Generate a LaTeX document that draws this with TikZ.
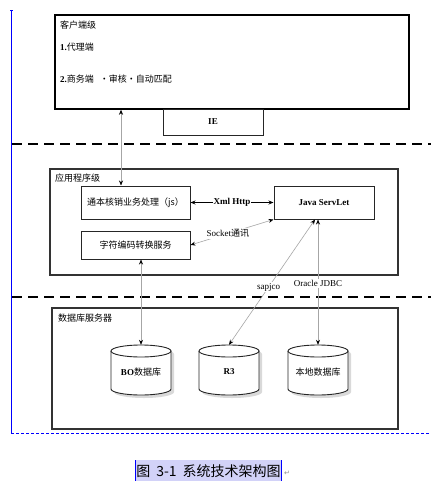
\documentclass[tikz,border=0pt]{standalone}
\usepackage{fontspec}
\setmainfont{Liberation Serif}
\newfontfamily\cjk{Noto Sans CJK SC}
\newfontfamily\dejavu{DejaVu Sans}
\usetikzlibrary{arrows.meta}
\definecolor{hl}{RGB}{210,210,248}
\definecolor{wordblue}{RGB}{0,0,255}
\newcommand{\dbcyl}[1]{%
  \fill[black!15] (#1-27,-354) -- (#1-27,-392) arc[start angle=180,end angle=360,x radius=30,y radius=6] -- (#1+33,-354) arc[start angle=0,end angle=180,x radius=30,y radius=6] -- cycle;
  \draw[cylline] (#1-30,-351) -- (#1-30,-389) arc[start angle=180,end angle=360,x radius=30,y radius=6] -- (#1+30,-351);
  \draw[cylline] (#1,-351) ellipse[x radius=30,y radius=6];
}
\begin{document}
\begin{tikzpicture}[x=1pt,y=1pt,
  tier/.style={draw=black!80, line width=1.3pt, fill=white, inner sep=0pt},
  sbox/.style={draw=black!85, line width=1pt, fill=white, inner sep=0pt, font=\cjk\fontsize{9}{10}\selectfont},
  cylline/.style={draw=black!85, line width=0.9pt, fill=white},
  lbl/.style={anchor=west, inner sep=0pt, font=\cjk\fontsize{9}{10}\selectfont},
  tip/.style={Stealth[length=5pt,width=4pt,black]},
  conn/.style={draw=black!35, line width=0.6pt, {Stealth[length=5pt,width=4pt,black]}-{Stealth[length=5pt,width=4pt,black]}},
  clabel/.style={fill=white, inner sep=1pt, font=\fontsize{9}{10}\selectfont},
  sep/.style={draw=black, line width=1.8pt, dash pattern=on 10pt off 6pt},
]
\useasboundingbox (0,0) rectangle (431,-485);

% page marks
\draw[wordblue, line width=1pt] (11.5,-10) -- (11.5,-433);
\draw[wordblue, line width=1pt] (10,-10.5) -- (13,-10.5);
\draw[wordblue, line width=1pt, dash pattern=on 3pt off 2pt] (11,-433.5) -- (431,-433.5);

% tier separators
\draw[sep] (12,-144) -- (431,-144);
\draw[sep] (12,-297) -- (431,-297);

% client tier
\node[tier, draw=black, line width=1.5pt, minimum width=354pt, minimum height=94pt] (client) at (232,-62) {};
\node[lbl] (clienttitle) at (60,-25) {客户端级};
\node[lbl] (agent) at (60,-47) {{\rmfamily\bfseries 1.}代理端};
\node[lbl] (biz) at (60,-79) {{\rmfamily\bfseries 2.}商务端\hspace{6pt}・审核・自动匹配};
\node[sbox, minimum width=100pt, minimum height=26pt, font=\bfseries\fontsize{9}{10}\selectfont] (ie) at (213,-122) {IE};

% application tier
\node[tier, minimum width=348pt, minimum height=106pt] (app) at (224,-222) {};
\node[lbl] (apptitle) at (55,-178) {应用程序级};
\node[sbox, minimum width=109pt, minimum height=33pt] (js) at (135.5,-202.5) {通本核销业务处理（js）};
\node[sbox, minimum width=100pt, minimum height=33pt, font=\bfseries\fontsize{9}{10}\selectfont] (java) at (324,-202.5) {Java ServLet};
\node[sbox, minimum width=109pt, minimum height=28pt] (conv) at (135.5,-245) {字符编码转换服务};

% database tier
\node[tier, minimum width=346pt, minimum height=121pt] (db) at (225,-368.5) {};
\node[lbl] (dbtitle) at (58,-318) {数据库服务器};
\dbcyl{141}
\dbcyl{229}
\dbcyl{318}
\node[inner sep=0pt, minimum width=60pt, minimum height=54pt] (bo) at (141,-372) {{\bfseries\fontsize{9}{10}\selectfont BO}{\cjk\fontsize{9}{10}\selectfont 数据库}};
\node[inner sep=0pt, minimum width=60pt, minimum height=54pt, font=\bfseries\fontsize{9}{10}\selectfont] (r3) at (229,-372) {R3};
\node[inner sep=0pt, minimum width=60pt, minimum height=54pt, font=\cjk\fontsize{9}{10}\selectfont] (loc) at (318,-372) {本地数据库};

% connectors
\coordinate (jsin) at ([xshift=-14.5pt]js.north);
\draw[conn] (client.south -| jsin) -- (jsin);
\draw[draw=black, line width=0.8pt, {Stealth[length=5pt,width=4pt]}-{Stealth[length=5pt,width=4pt]}] (js.east) -- node[clabel, font=\bfseries\fontsize{9}{10}\selectfont] (xml) {Xml Http} (js.east -| java.west);
\draw[conn] (java.south west) -- node[clabel, pos=0.55] (sock) {Socket{\cjk 通讯}} (conv.east);
\draw[conn] (conv.south -| bo.north) -- (bo.north);
\coordinate (javain) at ([xshift=-9pt]java.south);
\draw[conn] (javain) -- node[clabel, pos=0.54] (sap) {sapjco} (r3.north);
\draw[conn] (loc.north |- java.south) -- node[clabel, pos=0.51] (jdbc) {Oracle JDBC} (loc.north);

% caption
\fill[hl] (135,-460) rectangle (282,-481);
\draw[wordblue, line width=0.8pt] (135.5,-460) -- (135.5,-481);
\draw[wordblue, line width=0.8pt] (281.5,-460) -- (281.5,-481);
\node[inner sep=0pt, font=\cjk\fontsize{14}{16}\selectfont] (caption) at (208.5,-471) {图\hspace{6pt}3-1\hspace{6pt}系统技术架构图};
\node[inner sep=0pt, text=black!45, font=\dejavu\fontsize{7}{8}\selectfont] (ret) at (287,-473) {↵};
\end{tikzpicture}
\end{document}
